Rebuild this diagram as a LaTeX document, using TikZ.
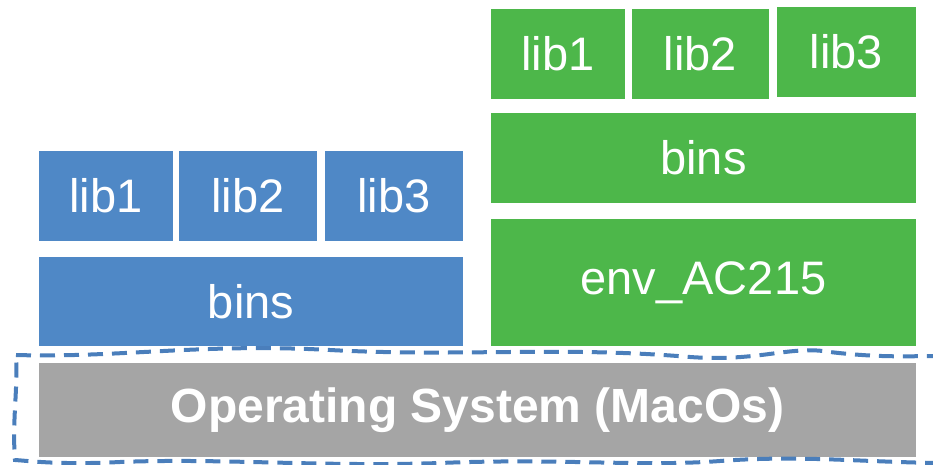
\documentclass[tikz,border=0pt]{standalone}
\usepackage{fontspec}
\setmainfont{Liberation Sans}
\definecolor{stackblue}{HTML}{4F88C6}
\definecolor{stackgreen}{HTML}{4DB74A}
\definecolor{osgray}{HTML}{A5A5A5}
\definecolor{dashblue}{HTML}{4A7EBB}
\begin{document}
\begin{tikzpicture}[x=1pt,y=-1pt,
  layer/.style={rectangle, inner sep=0pt, text=white,
    font=\fontsize{47}{50}\selectfont},
  bluebox/.style={layer, fill=stackblue},
  greenbox/.style={layer, fill=stackgreen},
  osbox/.style={layer, fill=osgray, font=\fontsize{48}{50}\selectfont\bfseries},
  sandbox/.style={draw=dashblue, line width=4pt, dash pattern=on 15pt off 9pt}]
\useasboundingbox (0,0) rectangle (933,465);

% system-wide stack
\node[bluebox, minimum width=134pt, minimum height=90pt] (blib1) at (106,196) {lib1};
\node[bluebox, minimum width=138pt, minimum height=90pt] (blib2) at (248,196) {lib2};
\node[bluebox, minimum width=138pt, minimum height=90pt] (blib3) at (394,196) {lib3};
\node[bluebox, minimum width=424pt, minimum height=89pt] (bbins) at (251,301.5) {bins};

% environment stack
\node[greenbox, minimum width=134pt, minimum height=90pt] (glib1) at (558,54) {lib1};
\node[greenbox, minimum width=137pt, minimum height=90pt] (glib2) at (700.5,54) {lib2};
\node[greenbox, minimum width=139pt, minimum height=90pt] (glib3) at (846.5,52) {lib3};
\node[greenbox, minimum width=425pt, minimum height=90pt] (gbins) at (703.5,158) {bins};
\node[greenbox, minimum width=425pt, minimum height=127pt] (genv) at (703.5,282.5) {env\_AC215};

% operating system
\node[osbox, minimum width=877pt, minimum height=94pt] (os) at (477.5,410) {Operating System (MacOs)};

% hand-drawn dashed outline around the OS layer
\draw[sandbox] (16,355)
  .. controls (120,358) and (200,343) .. (330,350)
  .. controls (460,357) and (560,346) .. (690,357)
  .. controls (760,362) and (790,345) .. (830,352)
  .. controls (880,358) and (910,356) .. (940,356)
  -- (940,463)
  .. controls (860,462) and (800,455) .. (720,461)
  .. controls (640,467) and (560,458) .. (440,463)
  .. controls (320,467) and (220,458) .. (120,462)
  .. controls (60,465) and (30,461) .. (15,460)
  .. controls (12,420) and (18,390) .. (16,355) -- cycle;
\end{tikzpicture}
\end{document}
